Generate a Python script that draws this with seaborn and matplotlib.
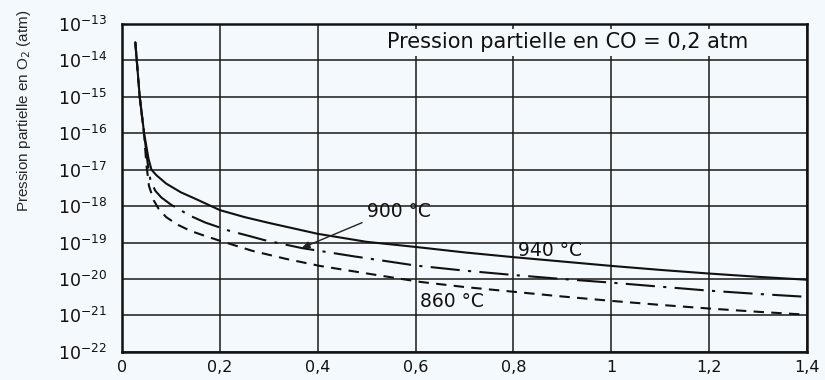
import numpy as np
import pandas as pd
import matplotlib
matplotlib.use("Agg")
import matplotlib.pyplot as plt
import seaborn as sns

# --- data: O2 partial pressure (log10 atm) vs abscissa, CO partial pressure 0.2 atm ---
x_940 = [0.027, 0.036, 0.045, 0.054, 0.06, 0.07, 0.09, 0.12, 0.15, 0.2, 0.25, 0.3,
         0.4, 0.5, 0.6, 0.7, 0.8, 0.9, 1.0, 1.1, 1.2, 1.3, 1.4]
log_940 = [-13.5, -15.0, -16.0, -16.7, -17.0, -17.15, -17.38, -17.62, -17.8, -18.11,
           -18.3, -18.46, -18.76, -18.98, -19.12, -19.27, -19.4, -19.52, -19.64,
           -19.75, -19.85, -19.94, -20.02]

x_900 = [0.027, 0.036, 0.045, 0.052, 0.058, 0.068, 0.08, 0.1, 0.14, 0.17, 0.22, 0.26,
         0.29, 0.367, 0.47, 0.6, 0.7, 0.8, 0.9, 1.0, 1.1, 1.2, 1.3, 1.4]
log_900 = [-13.5, -15.0, -16.0, -16.8, -17.3, -17.58, -17.76, -17.96, -18.27, -18.45,
           -18.68, -18.82, -18.93, -19.15, -19.37, -19.63, -19.77, -19.89, -20.0,
           -20.1, -20.21, -20.32, -20.41, -20.49]

x_860 = [0.027, 0.036, 0.045, 0.05, 0.055, 0.065, 0.075, 0.09, 0.112, 0.14, 0.17, 0.2,
         0.267, 0.336, 0.404, 0.506, 0.61, 0.7, 0.8, 0.9, 1.0, 1.1, 1.2, 1.3, 1.4]
log_860 = [-13.5, -15.0, -16.05, -16.9, -17.45, -17.85, -18.08, -18.3, -18.5, -18.68,
           -18.82, -18.95, -19.23, -19.45, -19.64, -19.86, -20.08, -20.22, -20.35,
           -20.48, -20.6, -20.71, -20.81, -20.9, -20.98]

temperatures = ["940 °C", "900 °C", "860 °C"]
x_ticks = [0, 0.2, 0.4, 0.6, 0.8, 1.0, 1.2, 1.4]
x_tick_labels = ["0", "0,2", "0,4", "0,6", "0,8", "1", "1,2", "1,4"]
y_exponents = [-22, -21, -20, -19, -18, -17, -16, -15, -14, -13]

title_text = "Pression partielle en CO = 0,2 atm"
y_label = "Pression partielle en O$_2$ (atm)"

# label anchors (x, log10 p) for the curve names
label_pos = {"940 °C": (0.81, -19.23), "900 °C": (0.50, -18.14), "860 °C": (0.61, -20.62)}
idx_900_pointer = 13  # point of the 900 °C curve the leader line points to

# --- long-form table for seaborn ---
frames = []
for name, xs, ls in zip(temperatures, [x_940, x_900, x_860], [log_940, log_900, log_860]):
    frames.append(pd.DataFrame({"x": xs, "p": 10.0 ** np.array(ls), "T": name}))
df = pd.concat(frames, ignore_index=True)

bg = "#f3f9fc"
sns.set_theme(style="white", rc={
    "figure.facecolor": bg, "axes.facecolor": bg,
    "axes.edgecolor": "#111111", "axes.linewidth": 1.8,
    "xtick.color": "#111111", "ytick.color": "#111111",
    "text.color": "#111111",
})
plt.rcParams["font.family"] = ["DejaVu Sans"]
plt.rcParams["mathtext.fontset"] = "dejavusans"

fig = plt.figure(figsize=(8.25, 3.8), dpi=100)
ax = fig.add_axes([0.148, 0.074, 0.830, 0.863])

sns.lineplot(
    data=df, x="x", y="p", hue="T", style="T",
    palette={t: "#111111" for t in temperatures},
    dashes={"940 °C": "", "900 °C": (14, 4, 1.5, 4), "860 °C": (5, 3.5)},
    linewidth=1.5, legend=False, ax=ax, sort=False,
)

ax.set_yscale("log")
ax.set_xlim(0, 1.4)
ax.set_ylim(1e-22, 1e-13)

ax.set_xticks(x_ticks)
ax.set_xticklabels(x_tick_labels, fontsize=11.5)
ax.set_yticks([10.0 ** e for e in y_exponents])
ax.set_yticklabels([f"$10^{{{e}}}$" for e in y_exponents], fontsize=12.5)
ax.minorticks_off()
ax.tick_params(axis="y", which="major", direction="out", length=9, width=1.2, pad=2)
ax.tick_params(axis="x", which="major", direction="out", length=4, width=1.2, pad=1.5)

ax.grid(True, which="major", color="#1a1a1a", linewidth=1.1)
for s in ax.spines.values():
    s.set_visible(True)
    s.set_linewidth(1.8)

ax.set_xlabel("")
ax.set_ylabel(y_label, family=["Liberation Sans Narrow", "Liberation Sans"], fontsize=11)
ax.yaxis.set_label_coords(-0.130, 0.735)

# boxed caption inside the plot
ax.text(0.91, 10 ** -13.5, title_text, ha="center", va="center", fontsize=15,
        bbox=dict(facecolor=bg, edgecolor="none", pad=2.5), zorder=5)

# curve labels
ax.text(label_pos["940 °C"][0], 10 ** label_pos["940 °C"][1], "940 °C",
        ha="left", va="center", fontsize=13.5)
ax.text(label_pos["860 °C"][0], 10 ** label_pos["860 °C"][1], "860 °C",
        ha="left", va="center", fontsize=13.5)
ax.annotate(
    "900 °C",
    xy=(x_900[idx_900_pointer], 10 ** log_900[idx_900_pointer]),
    xytext=(label_pos["900 °C"][0], 10 ** label_pos["900 °C"][1]),
    ha="left", va="center", fontsize=13.5,
    arrowprops=dict(arrowstyle="-|>,head_length=0.35,head_width=0.15",
                    color="#222222", lw=1.0, relpos=(0.0, 0.0),
                    shrinkA=1, shrinkB=0),
)

fig.savefig("out.png", dpi=100, facecolor=bg)
